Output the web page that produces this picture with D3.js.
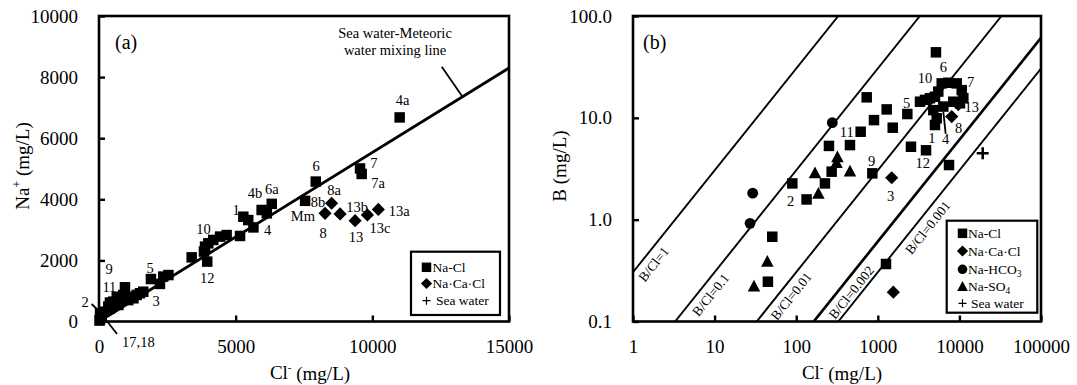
<!DOCTYPE html>
<html><head><meta charset="utf-8">
<script src="https://cdn.jsdelivr.net/npm/d3@7"></script>
<style>
body{margin:0;background:#fff}
svg, svg text{font-family:"Liberation Serif","DejaVu Serif","Noto Serif",serif}
</style></head><body>
<svg id="chart" width="1077" height="385"></svg>
<script>
// ---------- (a) Na+ versus Cl- (linear) ----------
const clTicksA = [0, 5000, 10000, 15000];
const naTicksA = [0, 2000, 4000, 6000, 8000, 10000];
// [Cl-, Na+] mg/L
const naClA = [[11000,6680],[9550,5010],[9610,4830],[7930,4580],[7540,3950],[6320,3850],[5950,3650],[6140,3540],
  [5650,3080],[5280,3430],[5460,3320],[5160,2800],[4670,2830],[4430,2780],[4180,2670],[4000,2560],[3880,2450],
  [3840,2290],[3960,1960],[3390,2100],[2540,1520],[2350,1470],[2230,1230],[1900,1390],[1620,975],[1500,925],
  [1380,870],[1260,760],[1130,810],[1070,700],[950,1120],[890,870],[710,540],[650,810],[650,600],[520,650],
  [400,620],[400,430],[340,490],[160,320],[100,140],[40,270],[40,70],[20,30]];
const naCaClA = [[8510,3870],[8270,3540],[8820,3520],[9370,3300],[9820,3490],[10220,3670]];
const mixingLineA = [[0,0],[15000,8300]];
// sample names [text, Cl-, Na+]
const pointLabelsA = [["4a",11110,7250],["7",10060,5190],["7a",10210,4540],["6",7940,5100],["8a",8600,4300],
  ["8b",8010,3920],["Mm",7460,3460],["8",8200,2900],["13b",9440,3750],["13",9400,2770],["13c",10280,3060],
  ["13a",10980,3620],["4b",5710,4220],["6a",6320,4330],["1",5020,3660],["4",6170,3000],["10",3820,3020],
  ["12",3960,1430],["5",1870,1770],["3",2090,680],["9",370,1710],["11",380,1140],["2",-510,650],["17,18",1440,-660]];
const leadersA = [[[-270,573],[146,213]], [[660,-410],[146,180]], [[12540,8340],[13300,7360]]];

// ---------- (b) B versus Cl- (log-log) ----------
const clTicksB = [1, 10, 100, 1000, 10000, 100000];
const bTicksB = [0.1, 1, 10, 100];
// [Cl-, B] mg/L
const naClB = [[5160,44.0],[6070,21.8],[7310,22.1],[9270,21.8],[10670,18.7],[11170,15.6],[10170,13.9],[8420,14.4],
  [3790,15.0],[4360,15.6],[5020,16.1],[5510,18.1],[4790,11.9],[5270,9.9],[5020,8.5],[6350,12.9],[3290,14.4],
  [2300,10.9],[1285,12.1],[1524,8.0],[898,9.5],[731,15.9],[617,7.3],[456,5.4],[252,5.3],[272,2.96],[225,2.27],
  [134,1.58],[89.6,2.27],[857,2.85],[2550,5.2],[3900,4.8],[7460,3.44],[1260,0.367],[50.9,0.68],[45,0.246]];
const naCaClB = [[8050,10.3],[9700,13.5],[1480,2.58],[1550,0.194]];
const naHCO3B = [[277,8.96],[29.3,1.82],[27.2,0.92]];
const naSO4B = [[320,4.1],[312,3.6],[456,2.96],[170,2.85],[187,1.79],[44.3,0.386],[30.4,0.22]];
const seaWaterB = [[19300,4.49]];
// molar B/Cl reference ratios and the Cl- where each name sits
const ratiosB = [1, 0.1, 0.01, 0.002, 0.001];
const ratioNameClB = [1.4, 7, 68, 370, 3200];
const pointLabelsB = [["10",3790,24.8],["6",6350,31.8],["7",13750,22.6],["5",2260,13.9],["13",14150,12.7],
  ["8",9800,7.9],["1",4600,6.3],["4",6790,6.2],["11",416,7.3],["9",842,3.77],["12",3550,3.58],["3",1440,1.71],
  ["2",85.6,1.53]];
const leadersB = [[[6790,6.95],[6350,11.5]]];

const MOLAR = 10.81 / 35.45; // B/Cl molar -> mass ratio
const FONT = '"Liberation Serif","DejaVu Serif","Noto Serif",serif';
const TICK_FS = 19, TITLE_FS = 19, NOTE_FS = 14.5;

const svg = d3.select("#chart").attr("font-family", FONT);

// marker shapes
const shape = {
  square: s => `M${-s/2},${-s/2}h${s}v${s}h${-s}Z`,
  diamond: r => `M0,${-r}L${r},0L0,${r}L${-r},0Z`,
  triangle: r => `M0,${-r}L${r*0.92},${r*0.72}L${-r*0.92},${r*0.72}Z`,
  circle: r => `M${-r},0a${r},${r} 0 1,0 ${2*r},0a${r},${r} 0 1,0 ${-2*r},0Z`
};

function frame(g, x0, y0, x1, y1) {
  g.append("rect").attr("x", x0).attr("y", y0).attr("width", x1 - x0).attr("height", y1 - y0)
    .attr("fill", "none").attr("stroke", "#000").attr("stroke-width", 2.6);
}
function styleAxis(sel, fs) {
  sel.attr("font-family", FONT);
  sel.select(".domain").remove();
  sel.selectAll(".tick line").attr("stroke", "#000").attr("stroke-width", 2.4);
  sel.selectAll(".tick text").attr("fill", "#000").attr("font-size", fs).attr("font-family", FONT);
}
function drawPoints(g, data, x, y, d) {
  g.selectAll(null).data(data).join("path")
    .attr("transform", p => `translate(${x(p[0])},${y(p[1])})`)
    .attr("d", d).attr("fill", "#000");
}
function drawPlus(g, data, x, y, s, w) {
  data.forEach(p => {
    const cx = x(p[0]), cy = y(p[1]);
    g.append("path").attr("d", `M${cx-s},${cy}H${cx+s}M${cx},${cy-s}V${cy+s}`)
      .attr("stroke", "#000").attr("stroke-width", w);
  });
}
function drawLabels(g, data, x, y, fs) {
  g.selectAll(null).data(data).join("text")
    .attr("x", d => x(d[1])).attr("y", d => y(d[2])).attr("dy", "0.35em")
    .attr("text-anchor", "middle").attr("font-size", fs).text(d => d[0]);
}
function drawLeaders(g, data, x, y) {
  data.forEach(l => g.append("line")
    .attr("x1", x(l[0][0])).attr("y1", y(l[0][1])).attr("x2", x(l[1][0])).attr("y2", y(l[1][1]))
    .attr("stroke", "#000").attr("stroke-width", 1.8));
}
function legend(g, x0, y0, x1, y1, items, mx, tx, fs) {
  g.append("rect").attr("x", x0).attr("y", y0).attr("width", x1 - x0).attr("height", y1 - y0)
    .attr("fill", "#fff").attr("stroke", "#000").attr("stroke-width", 2.2);
  items.forEach(it => {
    if (it.plus) {
      g.append("path").attr("d", `M${mx-4},${it.y}h8M${mx},${it.y-4}v8`).attr("stroke", "#000").attr("stroke-width", 1.2);
    } else {
      g.append("path").attr("transform", `translate(${mx},${it.y})`).attr("d", it.d).attr("fill", "#000");
    }
    const t = g.append("text").attr("x", it.tx || tx).attr("y", it.y).attr("dy", "0.35em").attr("font-size", fs);
    it.parts.forEach(([s, sub]) => {
      const ts = t.append("tspan").text(s);
      if (sub) ts.attr("font-size", fs * 0.7).attr("dy", "0.3em");
    });
  });
}

// ================= panel (a) =================
const xA = d3.scaleLinear().domain([0, 15000]).range([99, 509]);
const yA = d3.scaleLinear().domain([0, 10000]).range([321.5, 16]);
const gA = svg.append("g");

gA.append("g").attr("transform", `translate(${xA(0)},0)`)
  .call(d3.axisLeft(yA).tickValues(naTicksA).tickSize(-6).tickPadding(21).tickFormat(d3.format("d")))
  .call(s => styleAxis(s, TICK_FS));
gA.append("g").attr("transform", `translate(0,${yA(0)})`)
  .call(d3.axisBottom(xA).tickValues(clTicksA).tickSize(-6).tickPadding(18).tickFormat(d3.format("d")))
  .call(s => styleAxis(s, TICK_FS));

gA.append("line").attr("x1", xA(mixingLineA[0][0])).attr("y1", yA(mixingLineA[0][1]))
  .attr("x2", xA(mixingLineA[1][0])).attr("y2", yA(mixingLineA[1][1]))
  .attr("stroke", "#000").attr("stroke-width", 2.8);
drawLeaders(gA, leadersA, xA, yA);

drawPoints(gA, naClA, xA, yA, shape.square(10.5));
drawPoints(gA, naCaClA, xA, yA, shape.diamond(6.6));
drawLabels(gA, pointLabelsA, xA, yA, NOTE_FS);
frame(gA, 99, 16, 509, 321.5);

gA.append("text").attr("x", xA(10830)).attr("y", yA(9444)).attr("dy", "0.35em").attr("text-anchor", "middle")
  .attr("font-size", NOTE_FS).text("Sea water-Meteoric");
gA.append("text").attr("x", xA(10830)).attr("y", yA(8887)).attr("dy", "0.35em").attr("text-anchor", "middle")
  .attr("font-size", NOTE_FS).text("water mixing line");
gA.append("text").attr("x", 115).attr("y", 42).attr("dy", "0.35em").attr("text-anchor", "start")
  .attr("font-size", 20).text("(a)");

legend(gA, 411, 251.7, 500, 315, [
  { y: 267.3, d: shape.square(9.5), parts: [["Na-Cl"]] },
  { y: 283.5, d: shape.diamond(5.6), parts: [["Na·Ca·Cl"]] },
  { y: 300.7, plus: true, tx: 436, parts: [["Sea water"]] }
], 426.5, 432.5, 13.5);

// axis titles (a)
const tA = svg.append("text").attr("x", 310).attr("y", 372).attr("dy", "0.35em").attr("text-anchor", "middle").attr("font-size", TITLE_FS);
tA.append("tspan").text("Cl");
tA.append("tspan").attr("font-size", 11).attr("dy", "-0.7em").text("-");
tA.append("tspan").attr("dy", "0.45em").text(" (mg/L)");
const yTA = svg.append("text").attr("transform", "translate(22,166) rotate(-90)").attr("dy", "0.35em")
  .attr("text-anchor", "middle").attr("font-size", TITLE_FS);
yTA.append("tspan").text("Na");
yTA.append("tspan").attr("font-size", 12).attr("dy", "-0.6em").text("+");
yTA.append("tspan").attr("dy", "0.4em").text(" (mg/L)");

// ================= panel (b) =================
const xB = d3.scaleLog().domain([1, 100000]).range([633, 1041]);
const yB = d3.scaleLog().domain([0.1, 100]).range([321.5, 16]);
const gB = svg.append("g");

gB.append("g").attr("transform", `translate(${xB(1)},0)`)
  .call(d3.axisLeft(yB).tickValues(bTicksB).tickSize(-6).tickPadding(21).tickFormat(d3.format(".1f")))
  .call(s => styleAxis(s, TICK_FS));
gB.append("g").attr("transform", `translate(0,${yB(0.1)})`)
  .call(d3.axisBottom(xB).tickValues(clTicksB).tickSize(-6).tickPadding(18).tickFormat(d3.format("d")))
  .call(s => styleAxis(s, TICK_FS));

svg.append("clipPath").attr("id", "clipB").append("rect")
  .attr("x", 633).attr("y", 16).attr("width", 408).attr("height", 305.5);
const lines = gB.append("g").attr("clip-path", "url(#clipB)");
const ang = Math.atan2(yB(10) - yB(1), xB(10) - xB(1));
ratiosB.forEach((r, i) => {
  const k = r * MOLAR;
  const c0 = Math.max(1, 0.1 / k), c1 = Math.min(100000, 100 / k);
  lines.append("line").attr("x1", xB(c0)).attr("y1", yB(k * c0)).attr("x2", xB(c1)).attr("y2", yB(k * c1))
    .attr("stroke", "#000").attr("stroke-width", r === 0.002 ? 2.7 : 1.9);
  const c = ratioNameClB[i];
  const px = xB(c) - 11 * Math.sin(ang), py = yB(k * c) + 11 * Math.cos(ang);
  gB.append("text").attr("transform", `translate(${px},${py}) rotate(${ang * 180 / Math.PI})`)
    .attr("dy", "0.35em").attr("text-anchor", "middle").attr("font-size", 13.5)
    .text("B/Cl=" + r);
});

drawLeaders(gB, leadersB, xB, yB);
drawPoints(gB, naClB, xB, yB, shape.square(10.5));
drawPoints(gB, naCaClB, xB, yB, shape.diamond(6.6));
drawPoints(gB, naHCO3B, xB, yB, shape.circle(5.4));
drawPoints(gB, naSO4B, xB, yB, shape.triangle(6.8));
drawPlus(gB, seaWaterB, xB, yB, 6, 2.6);
drawLabels(gB, pointLabelsB, xB, yB, NOTE_FS);
frame(gB, 633, 16, 1041, 321.5);

gB.append("text").attr("x", 643).attr("y", 42).attr("dy", "0.35em").attr("font-size", 20).text("(b)");

legend(gB, 946.7, 220.7, 1037.3, 312.7, [
  { y: 233.3, d: shape.square(9.5), parts: [["Na-Cl"]] },
  { y: 251, d: shape.diamond(5.6), parts: [["Na·Ca·Cl"]] },
  { y: 269.3, d: shape.circle(4.8), parts: [["Na-HCO"], ["3", true]] },
  { y: 286.7, d: shape.triangle(5.8), parts: [["Na-SO"], ["4", true]] },
  { y: 303.3, plus: true, tx: 971, parts: [["Sea water"]] }
], 962.5, 968, 13.5);

const tB = svg.append("text").attr("x", 842).attr("y", 372).attr("dy", "0.35em").attr("text-anchor", "middle").attr("font-size", TITLE_FS);
tB.append("tspan").text("Cl");
tB.append("tspan").attr("font-size", 11).attr("dy", "-0.7em").text("-");
tB.append("tspan").attr("dy", "0.45em").text(" (mg/L)");
svg.append("text").attr("transform", "translate(559,166) rotate(-90)").attr("dy", "0.35em")
  .attr("text-anchor", "middle").attr("font-size", TITLE_FS).text("B (mg/L)");
</script>
</body></html>
